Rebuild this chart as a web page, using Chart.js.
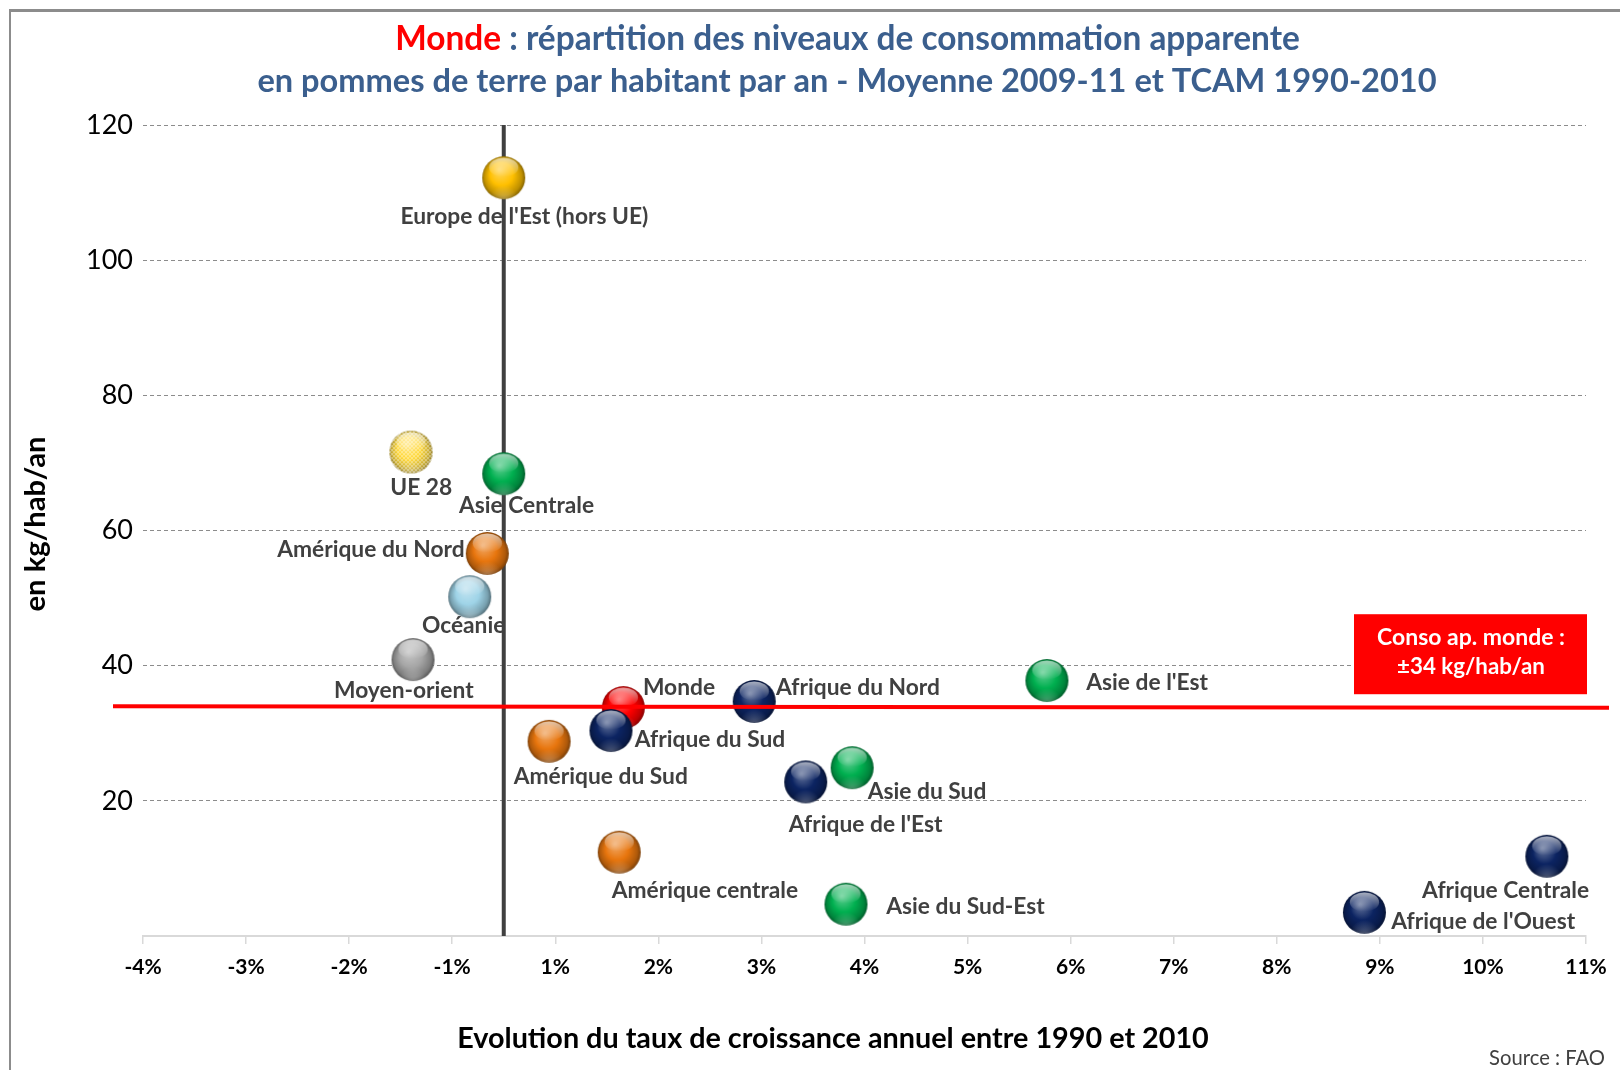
<!DOCTYPE html>
<html><head><meta charset="utf-8">
<script src="https://cdn.jsdelivr.net/npm/chart.js@4.4.1/dist/chart.umd.min.js"></script>
<style>html,body{margin:0;padding:0;background:#fff}canvas{display:block}</style>
</head><body>
<canvas id="c" width="1620" height="1070"></canvas>
<script>
// ---------- DATA ----------
const regions = ["Europe de l'Est (hors UE)","UE 28","Asie Centrale","Amérique du Nord","Océanie","Moyen-orient","Monde","Afrique du Nord","Afrique du Sud","Amérique du Sud","Asie de l'Est","Afrique de l'Est","Asie du Sud","Amérique centrale","Asie du Sud-Est","Afrique Centrale","Afrique de l'Ouest"];
const growthRate = [0.0, -0.9, 0.0, -0.16, -0.33, -0.88, 1.16, 2.43, 1.04, 0.44, 5.27, 2.93, 3.38, 1.12, 3.32, 10.12, 8.35];
const consumption = [112.2, 71.6, 68.4, 56.6, 50.2, 40.9, 33.8, 34.7, 30.4, 28.8, 37.8, 22.8, 24.9, 12.4, 4.7, 11.8, 3.5];
const zones = ["europeEst","ue","asie","amerique","oceanie","moyenOrient","monde","afrique","afrique","amerique","asie","afrique","asie","amerique","asie","afrique","afrique"];
const xTickValues = [-3.5,-2.5,-1.5,-0.5,0.5,1.5,2.5,3.5,4.5,5.5,6.5,7.5,8.5,9.5,10.5];
const xTickLabels = ["-4%","-3%","-2%","-1%","1%","2%","3%","4%","5%","6%","7%","8%","9%","10%","11%"];
const yTickLabels = ["","20","40","60","80","100","120"];
const worldConsumption = 34;
const zeroGrowth = 0;

// ---------- STYLE ----------
const zoneColors = {europeEst:"#ffc000", ue:"#ffd21a", asie:"#00b050", amerique:"#e8760e", oceanie:"#9fd4e8", moyenOrient:"#a6a6a6", monde:"#ff0000", afrique:"#0c2462"};
// [align, dx, dy] label placement relative to each point (pixels)
const labelPlacement = [
 ["center",20.6,39.3],["center",10.3,35.2],["center",22.8,31.8],["right",-22.7,-4.1],["center",-6.1,28.8],
 ["center",-9.2,30.8],["left",19.6,-19.7],["left",21.8,-13.5],["left",23.8,9.3],["center",51.7,35.2],
 ["left",39.3,2.1],["center",59.9,42.4],["left",15.6,23.7],["center",85.7,38.2],["left",40.3,2],
 ["right",42.3,34.1],["left",26.8,9.3]
];
const FAM = "Lato, 'Open Sans', sans-serif";

function mix(hex, amt){
  const n = parseInt(hex.slice(1),16); let r=n>>16, g=(n>>8)&255, b=n&255;
  const t = amt>0?255:0, a=Math.abs(amt);
  r=Math.round(r+(t-r)*a); g=Math.round(g+(t-g)*a); b=Math.round(b+(t-b)*a);
  return `rgb(${r},${g},${b})`;
}
function makeSphere(color, r, pattern){
  const s = Math.ceil(2*r+2), c = document.createElement('canvas'); c.width=c.height=s;
  const g = c.getContext('2d'); const cx=s/2, cy=s/2;
  const grad = g.createRadialGradient(cx-r*0.2, cy-r*0.35, r*0.05, cx, cy, r*1.02);
  grad.addColorStop(0, mix(color,0.35));
  grad.addColorStop(0.5, color);
  grad.addColorStop(0.85, mix(color,-0.25));
  grad.addColorStop(1, mix(color,-0.5));
  g.beginPath(); g.arc(cx,cy,r,0,Math.PI*2); g.fillStyle=grad; g.fill();
  g.save(); g.beginPath(); g.arc(cx,cy,r,0,Math.PI*2); g.clip();
  if(pattern){
    g.strokeStyle='rgba(255,255,255,0.75)'; g.lineWidth=1;
    for(let k=-s;k<2*s;k+=4){ g.beginPath(); g.moveTo(k,0); g.lineTo(k+s,s); g.stroke(); g.beginPath(); g.moveTo(k,s); g.lineTo(k+s,0); g.stroke(); }
  }
  const hg = g.createLinearGradient(0, cy-r, 0, cy-r*0.05);
  hg.addColorStop(0,'rgba(255,255,255,0.7)'); hg.addColorStop(1,'rgba(255,255,255,0)');
  g.beginPath(); g.ellipse(cx, cy-r*0.48, r*0.68, r*0.45, 0, 0, Math.PI*2); g.fillStyle=hg; g.fill();
  const bg = g.createRadialGradient(cx, cy+r*1.05, r*0.1, cx, cy+r*1.05, r*0.7);
  bg.addColorStop(0,'rgba(255,255,255,0.25)'); bg.addColorStop(1,'rgba(255,255,255,0)');
  g.fillStyle=bg; g.fillRect(0,0,s,s);
  g.restore();
  return c;
}
const sphereImgs = {};
for(const k in zoneColors) sphereImgs[k] = makeSphere(zoneColors[k], 21.5, k==='ue');

const mctx = document.createElement('canvas').getContext('2d');
function fitSize(text, weight, target){ mctx.font = `${weight} 100px ${FAM}`; return 100*target/mctx.measureText(text).width; }
const labelSize = fitSize(regions[0], 'bold', 248);

const overlay = {
  id:'overlay',
  beforeDraw(chart){
    const c = chart.ctx; c.save();
    c.fillStyle='#fff'; c.fillRect(0,0,chart.width,chart.height);
    c.fillStyle='#8c8c8c'; c.fillRect(9,9,chart.width-9,3); c.fillRect(9,9,2,chart.height-9);
    c.restore();
  },
  beforeDatasetsDraw(chart){
    const c = chart.ctx, xs = chart.scales.x, ys = chart.scales.y, a = chart.chartArea;
    const meta = chart.getDatasetMeta(0);
    c.save();
    c.font = `bold ${labelSize}px ${FAM}`; c.fillStyle='#404040'; c.textBaseline='middle';
    meta.data.forEach((pt,i)=>{ const [al,dx,dy]=labelPlacement[i]; c.textAlign=al; c.fillText(regions[i], pt.x+dx, pt.y+dy); });
    const x0 = xs.getPixelForValue(zeroGrowth);
    c.strokeStyle='#404040'; c.lineWidth=4; c.beginPath(); c.moveTo(x0,a.top); c.lineTo(x0,a.bottom); c.stroke();
    c.restore();
  },
  afterDraw(chart){
    const c = chart.ctx, ys = chart.scales.y, a = chart.chartArea;
    c.save();
    const yw = ys.getPixelForValue(worldConsumption);
    c.strokeStyle='#ff0000'; c.lineWidth=4; c.beginPath(); c.moveTo(a.left-30,yw); c.lineTo(a.right+23,yw+1.5); c.stroke();
    // annotation box
    c.fillStyle='#ff0000'; c.fillRect(a.right-232, yw-92, 233, 80);
    c.fillStyle='#fff'; c.textAlign='center'; c.textBaseline='middle';
    c.font = `bold ${fitSize('Conso ap. monde :','bold',188)}px ${FAM}`; c.fillText('Conso ap. monde :', a.right-115, yw-69);
    c.font = `bold ${fitSize('±34 kg/hab/an','bold',148)}px ${FAM}`; c.fillText('±34 kg/hab/an', a.right-115, yw-39);
    // title
    const t1a='Monde', t1b=' : répartition des niveaux de consommation apparente';
    const s1 = fitSize(t1a+t1b,'bold',905);
    c.font = `bold ${s1}px ${FAM}`; c.textAlign='left';
    const wA = c.measureText(t1a).width, wT = c.measureText(t1a+t1b).width;
    const x1 = 847.5 - wT/2;
    c.fillStyle='#ff0000'; c.fillText(t1a, x1, 39);
    c.fillStyle='#3b5f8e'; c.fillText(t1b, x1+wA, 39);
    const t2='en pommes de terre par habitant par an - Moyenne 2009-11 et TCAM 1990-2010';
    c.font = `bold ${fitSize(t2,'bold',1180)}px ${FAM}`; c.textAlign='center'; c.fillText(t2, 847, 81);
    // axis titles
    c.fillStyle='#000';
    const xt='Evolution du taux de croissance annuel entre 1990 et 2010';
    c.font = `bold ${fitSize(xt,'bold',752)}px ${FAM}`; c.fillText(xt, 833, 1039);
    const yt='en kg/hab/an';
    c.save(); c.translate(36,524); c.rotate(-Math.PI/2);
    c.font = `bold ${fitSize(yt,'bold',175)}px ${FAM}`; c.fillText(yt,0,0); c.restore();
    // source
    c.fillStyle='#404040'; c.textAlign='right';
    c.font = `${fitSize('Source : FAO','normal',116)}px ${FAM}`; c.fillText('Source : FAO', 1605, 1058);
    c.restore();
  }
};

new Chart(document.getElementById('c'), {
  type:'scatter',
  data:{ datasets:[{
    data: growthRate.map((x,i)=>({x, y:consumption[i]})),
    pointStyle: ctx => sphereImgs[zones[ctx.dataIndex]],
    pointRadius:21, pointHoverRadius:21, clip:false
  }]},
  options:{
    responsive:false, animation:false, events:[],
    layout:{padding:{left:0, top:125, right:34, bottom:0}},
    plugins:{legend:{display:false}, tooltip:{enabled:false}, title:{display:false}},
    scales:{
      x:{ type:'linear', min:xTickValues[0], max:xTickValues[xTickValues.length-1],
        afterBuildTicks: s => { s.ticks = xTickValues.map(v=>({value:v})); },
        ticks:{ callback:(v,i)=>xTickLabels[i], font:{family:FAM, weight:'bold', size:21}, color:'#000', padding:11, maxRotation:0, autoSkip:false },
        grid:{ drawOnChartArea:false, drawTicks:true, tickLength:8, color:'#d9d9d9', lineWidth:1.5 },
        border:{ color:'#d9d9d9', width:2 },
        afterFit: s => { s.height = 134; } },
      y:{ type:'linear', min:0, max:120,
        ticks:{ stepSize:20, callback:(v,i)=>yTickLabels[i], font:{family:FAM, size:27}, color:'#000', padding:10 },
        grid:{ color: c => c.tick.value===0 ? 'rgba(0,0,0,0)' : '#8c8c8c', lineWidth:1, drawTicks:false },
        border:{ display:false, dash:[4,3] },
        afterFit: s => { s.width = 143; } }
    }
  },
  plugins:[overlay]
});
</script>
</body></html>
